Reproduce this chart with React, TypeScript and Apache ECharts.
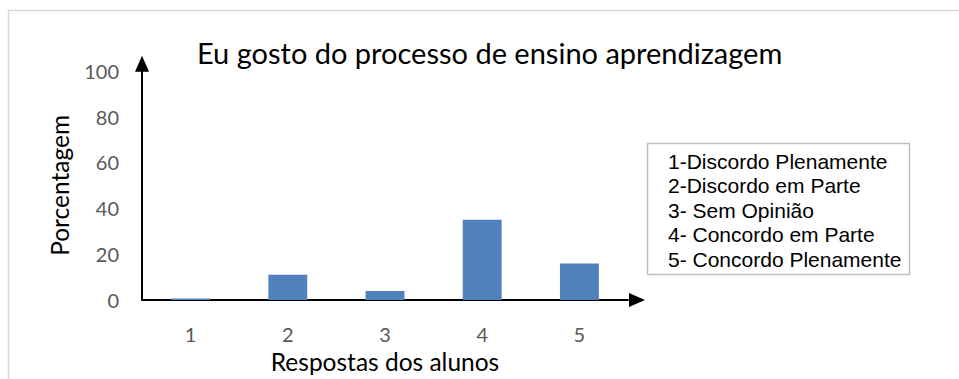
import React, { useEffect, useRef } from "react";
import * as echarts from "echarts";

const categories = ["1", "2", "3", "4", "5"];
const values = [0.7, 11, 4, 35, 16];
const yTicks = { min: 0, max: 100, interval: 20 };
const titleText = "Eu gosto do processo de ensino aprendizagem";
const xName = "Respostas dos alunos";
const yName = "Porcentagem";
const legendLines = [
  "1-Discordo Plenamente",
  "2-Discordo em Parte",
  "3- Sem Opinião",
  "4- Concordo em Parte",
  "5- Concordo Plenamente",
];

const CAL = "Lato, 'Open Sans', sans-serif";
const ARIAL = "'Liberation Sans', Arial, sans-serif";

export default function App() {
  const ref = useRef<HTMLDivElement>(null);
  useEffect(() => {
    if (!ref.current) return;
    const chart = echarts.init(ref.current, null, { renderer: "svg" });
    const legendTop = 143;
    const lineH = 24.6;
    chart.setOption({
      animation: false,
      backgroundColor: "#ffffff",
      title: {
        text: titleText,
        left: 192,
        top: 33,
        textStyle: { fontFamily: CAL, fontSize: 29, fontWeight: "normal", color: "#000000" },
      },
      grid: { left: 142, right: 331, top: 70.7, bottom: 72, containLabel: false },
      xAxis: {
        type: "category",
        data: categories,
        name: xName,
        nameLocation: "middle",
        nameGap: 48,
        nameTextStyle: { fontFamily: CAL, fontSize: 24.5, color: "#000000" },
        axisLine: {
          show: true,
          lineStyle: { color: "#000000", width: 2 },
          symbol: ["none", "triangle"],
          symbolSize: [14, 16],
          symbolOffset: [0, 9],
        },
        axisTick: { show: false },
        axisLabel: { margin: 24, fontFamily: CAL, fontSize: 20, color: "#595959" },
        splitLine: { show: false },
      },
      yAxis: {
        type: "value",
        min: yTicks.min,
        max: yTicks.max,
        interval: yTicks.interval,
        name: yName,
        nameLocation: "middle",
        nameGap: 70,
        nameRotate: 90,
        nameTextStyle: { fontFamily: CAL, fontSize: 24.5, color: "#000000" },
        axisLine: {
          show: true,
          lineStyle: { color: "#000000", width: 2 },
          symbol: ["none", "triangle"],
          symbolSize: [14, 16],
          symbolOffset: [0, 7],
        },
        axisTick: { show: false },
        axisLabel: { margin: 23, fontFamily: CAL, fontSize: 20, color: "#595959" },
        splitLine: { show: false },
      },
      series: [
        {
          type: "bar",
          data: values,
          barWidth: "40%",
          itemStyle: { color: "#4f81bd" },
        },
      ],
      graphic: [
        {
          type: "rect",
          shape: { x: 8.5, y: 10.5, width: 1200, height: 600 },
          style: { fill: "none", stroke: "#d9d9d9", lineWidth: 1.5 },
          silent: true,
          z: -10,
        },
        {
          type: "rect",
          shape: { x: 647.5, y: legendTop + 0.5, width: 262, height: 131 },
          style: { fill: "#ffffff", stroke: "#bfbfbf", lineWidth: 1.5 },
          silent: true,
        },
        ...legendLines.map((t, i) => ({
          type: "text",
          x: 668,
          y: legendTop + 18 + i * lineH,
          style: {
            text: t,
            fontFamily: ARIAL,
            fontSize: 21,
            fill: "#000000",
            align: "left",
            verticalAlign: "middle",
          },
          silent: true,
        })),
      ],
    });
    return () => chart.dispose();
  }, []);
  return (
    <div
      ref={ref}
      style={{ position: "fixed", left: 0, top: 0, width: 959, height: 379 }}
    />
  );
}
